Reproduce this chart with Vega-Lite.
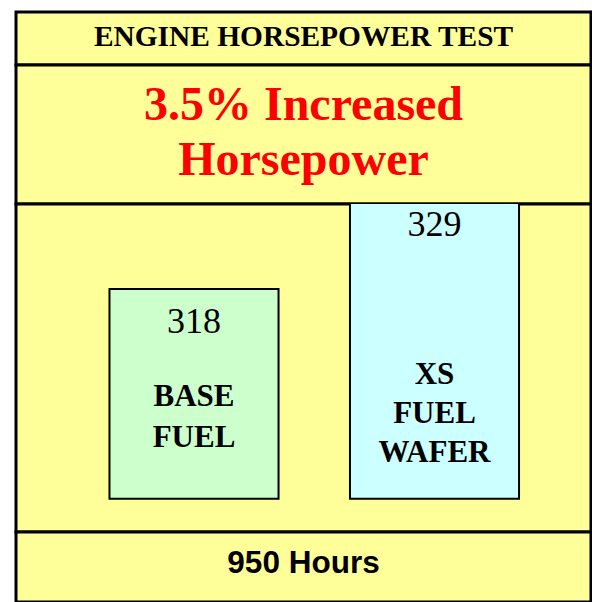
{
 "$schema": "https://vega.github.io/schema/vega-lite/v6.json",
 "background": "white",
 "padding": {"left": 14, "top": 10, "right": 3, "bottom": 2},
 "spacing": 0,
 "bounds": "flush",
 "config": {"view": {"stroke": "black", "strokeWidth": 3, "fill": "#FFFF99"}, "concat": {"spacing": 0}},
 "vconcat": [
  {"width": 575, "height": 53, "view": {"stroke": "black", "strokeWidth": 3, "fill": "#FFFF99"},
   "data": {"values": [{"t": "ENGINE HORSEPOWER TEST"}]},
   "mark": {"type": "text", "font": "Liberation Serif", "fontWeight": "bold", "fontSize": 29.4, "baseline": "middle", "align": "center", "color": "black", "dy": -2},
   "encoding": {"text": {"field": "t"}}},
  {"width": 575, "height": 139, "view": {"stroke": "black", "strokeWidth": 3, "fill": "#FFFF99"},
   "data": {"values": [{"t": "3.5% Increased\nHorsepower"}]},
   "mark": {"type": "text", "font": "Liberation Serif", "fontWeight": "bold", "fontSize": 48, "color": "#FF0000", "lineBreak": "\n", "lineHeight": 55, "baseline": "middle", "align": "center", "dy": -29},
   "encoding": {"text": {"field": "t"}}},
  {"width": 575, "height": 328, "view": {"stroke": "black", "strokeWidth": 3, "fill": "#FFFF99"},
   "data": {"values": [{"fuel": "BASE FUEL", "label": "BASE\nFUEL", "hp": 318}, {"fuel": "XS FUEL WAFER", "label": "XS\nFUEL\nWAFER", "hp": 329}]},
   "encoding": {"x": {"field": "fuel", "type": "nominal", "sort": null, "axis": null, "scale": {"paddingInner": 0.297, "paddingOuter": 0.344, "align": 0.565}}},
   "layer": [
     {"mark": {"type": "bar", "stroke": "black", "strokeWidth": 2, "clip": true},
      "encoding": {"y": {"field": "hp", "type": "quantitative", "axis": null, "scale": {"domain": [290.44, 327.64], "zero": false, "nice": false}},
                   "y2": {"datum": 294.2},
                   "color": {"field": "fuel", "type": "nominal", "legend": null, "scale": {"range": ["#CCFFCC", "#CCFFFF"]}}}},
     {"mark": {"type": "text", "font": "Liberation Serif", "fontSize": 36, "baseline": "alphabetic", "dy": 44, "color": "black"},
      "encoding": {"y": {"field": "hp", "type": "quantitative"}, "text": {"field": "hp"}}},
     {"transform": [{"filter": "datum.hp == 318"}],
      "mark": {"type": "text", "font": "Liberation Serif", "fontWeight": "bold", "fontSize": 31, "lineBreak": "\n", "lineHeight": 41, "baseline": "middle", "color": "black"},
      "encoding": {"y": {"datum": 305.7}, "text": {"field": "label"}}},
     {"transform": [{"filter": "datum.hp == 329"}],
      "mark": {"type": "text", "font": "Liberation Serif", "fontWeight": "bold", "fontSize": 31, "lineBreak": "\n", "lineHeight": 39, "baseline": "middle", "color": "black"},
      "encoding": {"y": {"datum": 308.2}, "text": {"field": "label"}}}
   ]},
  {"width": 575, "height": 70, "view": {"stroke": "black", "strokeWidth": 3, "fill": "#FFFF99"},
   "data": {"values": [{"t": "950 Hours"}]},
   "mark": {"type": "text", "font": "Liberation Sans", "fontWeight": "bold", "fontSize": 31.5, "dy": -3, "baseline": "middle", "align": "center", "color": "black"},
   "encoding": {"text": {"field": "t"}}}
 ]
}
